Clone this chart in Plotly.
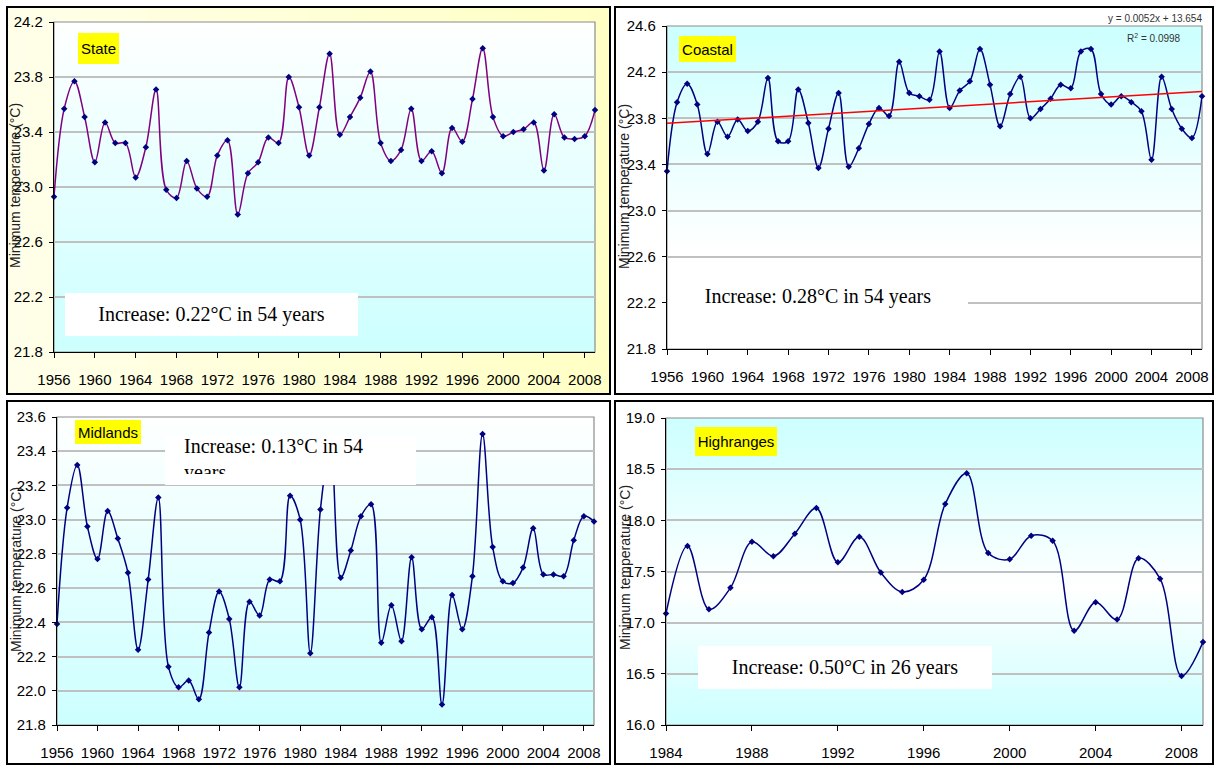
import numpy as np
import plotly.graph_objects as go

W, H = 1218, 766

# ---------------- data ----------------
years_long = list(range(1956, 2010))
years_high = list(range(1984, 2010))

state_tmin = [22.93, 23.57, 23.77, 23.51, 23.18, 23.47, 23.32, 23.32, 23.07, 23.29,
              23.71, 22.98, 22.92, 23.19, 22.99, 22.93, 23.23, 23.34, 22.80, 23.10,
              23.18, 23.36, 23.32, 23.80, 23.58, 23.23, 23.58, 23.97, 23.38, 23.51,
              23.65, 23.84, 23.32, 23.19, 23.27, 23.57, 23.19, 23.26, 23.10, 23.43,
              23.33, 23.64, 24.01, 23.51, 23.37, 23.40, 23.42, 23.47, 23.12, 23.53,
              23.36, 23.35, 23.37, 23.56]

coastal_tmin = [23.34, 23.94, 24.10, 23.92, 23.49, 23.77, 23.64, 23.79, 23.69, 23.77,
                24.15, 23.60, 23.60, 24.05, 23.76, 23.37, 23.71, 24.02, 23.38, 23.54,
                23.75, 23.89, 23.82, 24.29, 24.02, 23.99, 23.96, 24.38, 23.89, 24.04,
                24.12, 24.40, 24.09, 23.73, 24.01, 24.16, 23.80, 23.88, 23.97, 24.09,
                24.06, 24.38, 24.40, 24.01, 23.92, 23.99, 23.94, 23.86, 23.44, 24.16,
                23.88, 23.71, 23.63, 23.99]

midlands_tmin = [22.39, 23.07, 23.32, 22.96, 22.77, 23.05, 22.89, 22.69, 22.24, 22.65,
                 23.13, 22.14, 22.02, 22.06, 21.95, 22.34, 22.58, 22.42, 22.02, 22.52,
                 22.44, 22.65, 22.64, 23.14, 23.00, 22.22, 23.06, 23.45, 22.66, 22.82,
                 23.02, 23.09, 22.28, 22.50, 22.29, 22.78, 22.36, 22.43, 21.92, 22.56,
                 22.36, 22.67, 23.50, 22.84, 22.64, 22.63, 22.72, 22.95, 22.68, 22.68,
                 22.67, 22.88, 23.02, 22.99]

highranges_tmin = [17.09, 17.75, 17.13, 17.34, 17.79, 17.65, 17.87, 18.12, 17.59, 17.84,
                   17.49, 17.30, 17.42, 18.16, 18.46, 17.68, 17.62, 17.85, 17.80, 16.92,
                   17.20, 17.03, 17.63, 17.43, 16.48, 16.81]

xticks_long = list(range(1956, 2009, 4))
xticks_high = list(range(1984, 2009, 4))
yticks_state = [21.8, 22.2, 22.6, 23.0, 23.4, 23.8, 24.2]
yticks_coastal = [21.8, 22.2, 22.6, 23.0, 23.4, 23.8, 24.2, 24.6]
yticks_midlands = [21.8, 22.0, 22.2, 22.4, 22.6, 22.8, 23.0, 23.2, 23.4, 23.6]
yticks_high = [16.0, 16.5, 17.0, 17.5, 18.0, 18.5, 19.0]

region_names = ["State", "Coastal", "Midlands", "Highranges"]
increase_texts = ["Increase: 0.22°C in 54 years", "Increase: 0.28°C in 54 years",
                  "Increase: 0.13°C in 54<br>years", "Increase: 0.50°C in 26 years"]
trend_eq_text = "y = 0.0052x + 13.654"
trend_r2_text = "R<sup>2</sup> = 0.0998"
y_title = "Minimum temperature (°C)"

# ---------------- style ----------------
NARROW = "Liberation Sans Narrow, Arial Narrow, Liberation Sans, Arial, sans-serif"
SANS = "Liberation Sans, Arial, sans-serif"
SERIF = "Liberation Serif, Times New Roman, serif"
NAVY = "#000080"
CYAN = (204, 255, 255)
WHITE = (255, 255, 255)


def px_x(v):
    return v / W


def px_y(v):
    return 1 - v / H


def interp(stops, t):
    for (p0, c0), (p1, c1) in zip(stops[:-1], stops[1:]):
        if p0 <= t <= p1:
            f = 0 if p1 == p0 else (t - p0) / (p1 - p0)
            c = [round(a + (b - a) * f) for a, b in zip(c0, c1)]
            return "rgb(%d,%d,%d)" % tuple(c)
    c = stops[-1][1]
    return "rgb(%d,%d,%d)" % tuple(c)


# panels: plot area pixel boxes (x0, y0, x1, y1), border boxes
panels = [
    dict(ax="", plot=(54, 22, 595, 352), border=(7, 7, 610, 394),
         yr=(21.8, 24.2), yt=yticks_state, xr=(1956, 2009), xt=xticks_long,
         grad=[(0, CYAN), (1, WHITE)]),
    dict(ax="2", plot=(667, 26, 1202, 349), border=(615, 7, 1213, 394),
         yr=(21.8, 24.6), yt=yticks_coastal, xr=(1956, 2009), xt=xticks_long,
         grad=[(0, WHITE), (0.3, WHITE), (1, CYAN)]),
    dict(ax="3", plot=(57, 417, 594, 725), border=(7, 401, 610, 764),
         yr=(21.8, 23.6), yt=yticks_midlands, xr=(1956, 2009), xt=xticks_long,
         grad=[(0, CYAN), (1, WHITE)]),
    dict(ax="4", plot=(666, 418, 1203, 725), border=(615, 401, 1213, 764),
         yr=(16.0, 19.0), yt=yticks_high, xr=(1984, 2009), xt=xticks_high,
         grad=[(0, CYAN), (0.45, WHITE), (1, CYAN)]),
]

fig = go.Figure()
shapes = []
annotations = []
layout = dict(width=W, height=H, margin=dict(l=0, r=0, t=0, b=0, autoexpand=False),
              paper_bgcolor="white", plot_bgcolor="rgba(0,0,0,0)", showlegend=False)

# State panel yellowish background
n_strip = 30
b = panels[0]["border"]
for i in range(n_strip):
    t = (i + 0.5) / n_strip
    col = interp([(0, (255, 255, 234)), (1, (255, 255, 196))], t)
    xa = b[0] + (b[2] - b[0]) * i / n_strip
    xb = b[0] + (b[2] - b[0]) * (i + 1) / n_strip + 0.6
    shapes.append(dict(type="rect", xref="paper", yref="paper", layer="below",
                       x0=px_x(xa), x1=px_x(min(xb, b[2])), y0=px_y(b[3]), y1=px_y(b[1]),
                       fillcolor=col, line=dict(width=0)))

for p in panels:
    a = p["ax"]
    x0, y0, x1, y1 = p["plot"]
    layout["xaxis" + a] = dict(
        domain=[px_x(x0), px_x(x1)], range=list(p["xr"]), anchor="y" + a,
        tickvals=p["xt"], ticks="outside", ticklen=5, tickcolor="black", tickwidth=1,
        showline=True, linecolor="black", linewidth=1.2, showgrid=False, zeroline=False,
        tickfont=dict(family=NARROW, size=15, color="black"), ticklabelstandoff=9,
        automargin=False, fixedrange=True)
    layout["yaxis" + a] = dict(
        domain=[px_y(y1), px_y(y0)], range=list(p["yr"]), anchor="x" + a,
        tickvals=p["yt"], tickformat=".1f", ticks="outside", ticklen=4, tickcolor="black",
        showline=True, linecolor="black", linewidth=1.2, showgrid=True,
        gridcolor="#C0C0C0", gridwidth=1.5, zeroline=False,
        tickfont=dict(family=NARROW, size=15, color="black"), ticklabelstandoff=3,
        automargin=False, fixedrange=True)
    # gradient background bands
    n = 50
    xref = ("x" + a if a else "x") + " domain"
    yref = ("y" + a if a else "y") + " domain"
    for i in range(n):
        t = (i + 0.5) / n
        shapes.append(dict(type="rect", xref=xref, yref=yref, layer="below",
                           x0=0, x1=1, y0=i / n, y1=min(1, (i + 1) / n + 0.004),
                           fillcolor=interp(p["grad"], t), line=dict(width=0)))
    # frame (top/right grey)
    shapes.append(dict(type="rect", xref=xref, yref=yref, layer="below",
                       x0=0, x1=1, y0=0, y1=1, line=dict(color="#8C8C8C", width=1.2)))
    # panel border
    bx0, by0, bx1, by1 = p["border"]
    shapes.append(dict(type="rect", xref="paper", yref="paper", layer="above",
                       x0=px_x(bx0), x1=px_x(bx1), y0=px_y(by1), y1=px_y(by0),
                       line=dict(color="black", width=2)))

# ---------------- traces ----------------
series = [(years_long, state_tmin, "#800080", ""),
          (years_long, coastal_tmin, NAVY, "2"),
          (years_long, midlands_tmin, NAVY, "3"),
          (years_high, highranges_tmin, NAVY, "4")]
for xs, ys, lc, a in series:
    fig.add_trace(go.Scatter(
        x=xs, y=ys, mode="lines+markers", xaxis="x" + a, yaxis="y" + a,
        line=dict(color=lc, width=1.5, shape="spline", smoothing=1.0),
        marker=dict(symbol="diamond", size=5, color=NAVY),
        cliponaxis=False, hoverinfo="x+y"))

# linear trend for coastal
slope, intercept = np.polyfit(years_long, coastal_tmin, 1)
trend_x = [years_long[0], years_long[-1]]
trend_y = [slope * v + intercept for v in trend_x]
fig.add_trace(go.Scatter(x=trend_x, y=trend_y, mode="lines", xaxis="x2", yaxis="y2",
                         line=dict(color="#FF0000", width=1.5), hoverinfo="skip"))

# ---------------- annotations ----------------
# y-axis titles
for (cx, cy) in [(15, 186), (624, 187), (16, 570), (625, 568)]:
    annotations.append(dict(x=px_x(cx), y=px_y(cy), xref="paper", yref="paper",
                            text=y_title, textangle=-90, showarrow=False,
                            xanchor="center", yanchor="middle",
                            font=dict(family=SANS, size=14, color="#222222")))

# yellow region labels (x0, y0, w, h)
label_boxes = [(78, 33, 41, 31), (679, 36, 57, 26), (75, 420, 66, 24), (695, 427, 82, 29)]
for name, (lx, ly, lw, lh) in zip(region_names, label_boxes):
    annotations.append(dict(x=px_x(lx), y=px_y(ly), xref="paper", yref="paper",
                            xanchor="left", yanchor="top", text=name, showarrow=False,
                            bgcolor="#FFFF00", width=lw, height=lh, borderpad=0,
                            borderwidth=0, align="center", valign="middle",
                            font=dict(family=NARROW, size=15, color="black")))

# increase text boxes (x0, y0, w, h)
inc_boxes = [(65, 293, 293, 43), (668, 273, 300, 46), None, (698, 646, 294, 43)]
for txt, box in zip(increase_texts, inc_boxes):
    if box is None:
        continue
    bx, by, bw, bh = box
    annotations.append(dict(x=px_x(bx), y=px_y(by), xref="paper", yref="paper",
                            xanchor="left", yanchor="top", text=txt, showarrow=False,
                            bgcolor="white", width=bw, height=bh, borderpad=0,
                            borderwidth=0, align="center", valign="middle",
                            font=dict(family=SERIF, size=20, color="black")))

# Midlands: white box with clipped two-line text
shapes.append(dict(type="rect", xref="paper", yref="paper", layer="above",
                   x0=px_x(165), x1=px_x(416), y0=px_y(485), y1=px_y(436),
                   fillcolor="white", line=dict(width=0)))
annotations.append(dict(x=px_x(184), y=px_y(435), xref="paper", yref="paper",
                        xanchor="left", yanchor="top", text=increase_texts[2],
                        showarrow=False, width=228, height=39, borderpad=0, borderwidth=0,
                        align="left", valign="top",
                        font=dict(family=SERIF, size=20, color="black")))

# trendline equation
annotations.append(dict(x=px_x(1155), y=px_y(18), xref="paper", yref="paper",
                        text=trend_eq_text, showarrow=False, xanchor="center",
                        yanchor="middle", font=dict(family=NARROW, size=10, color="#333333")))
annotations.append(dict(x=px_x(1154), y=px_y(38), xref="paper", yref="paper",
                        text=trend_r2_text, showarrow=False, xanchor="center",
                        yanchor="middle", font=dict(family=NARROW, size=10, color="#333333")))

layout["shapes"] = shapes
layout["annotations"] = annotations
fig.update_layout(**layout)
fig.write_html("out.html")
